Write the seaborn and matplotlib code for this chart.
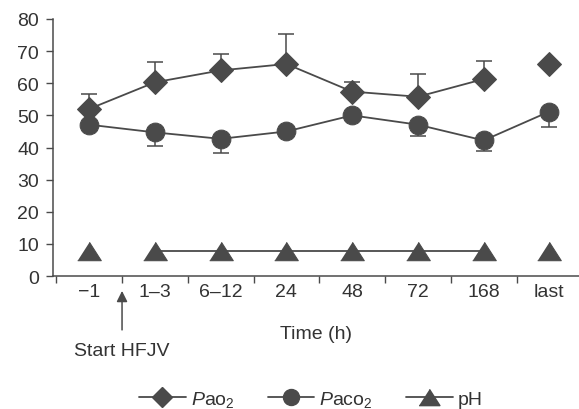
import numpy as np
import pandas as pd
import matplotlib.pyplot as plt
from matplotlib.lines import Line2D
import seaborn as sns

# podatki odčitani s slike
cas = ['\u22121', '1\u20133', '6\u201312', '24', '48', '72', '168', 'last']
pao2 = [52.0, 60.3, 64.0, 66.0, 57.4, 55.8, 61.3, 66.0]
pao2_sd = [4.7, 6.3, 5.0, 9.4, 3.1, 7.2, 5.7, 0.0]
paco2 = [47.1, 44.7, 42.7, 45.0, 50.0, 47.1, 42.2, 51.2]
paco2_sd = [0.0, 4.1, 4.4, 0.0, 0.0, 3.4, 3.4, 4.7]
ph = [7.9, 7.9, 7.9, 7.9, 7.9, 7.9, 7.9, 7.9]

df = pd.DataFrame({'x': np.arange(len(cas)), 'pao2': pao2, 'paco2': paco2, 'ph': ph})

sns.set_style('ticks')
plt.rcParams['font.family'] = ['Liberation Sans', 'DejaVu Sans']
plt.rcParams['mathtext.fontset'] = 'custom'
plt.rcParams['mathtext.rm'] = 'Liberation Sans'
plt.rcParams['mathtext.it'] = 'Liberation Sans:italic'

barva = '#4a4a4a'
tekst = '#333333'
fs = 14

# sirsi trikotnik kot v originalu
trikotnik = [(-1, -0.78), (1, -0.78), (0, 0.78)]

fig = plt.figure(figsize=(5.79, 4.10), dpi=100)
ax = fig.add_axes([53 / 579, 1 - 277 / 410, 1 - 53 / 579, (277 - 20) / 410])

# error bars (samo ena stran)
ax.errorbar(df['x'], df['pao2'], yerr=[np.zeros(len(cas)), pao2_sd], fmt='none',
            ecolor=barva, elinewidth=1.1, capsize=5.5, capthick=1.1, zorder=1)
ax.errorbar(df['x'], df['paco2'], yerr=[paco2_sd, np.zeros(len(cas))], fmt='none',
            ecolor=barva, elinewidth=1.1, capsize=5.5, capthick=1.1, zorder=1)

kw = dict(color=barva, linewidth=1.3, markeredgecolor=barva, ax=ax, legend=False)

# PaO2: povezano od -1 do 168, last posebej
sns.lineplot(data=df.iloc[:7], x='x', y='pao2', marker='D', markersize=12, **kw)
sns.lineplot(data=df.iloc[7:], x='x', y='pao2', marker='D', markersize=12, **kw)
# PaCO2: vse povezano
sns.lineplot(data=df, x='x', y='paco2', marker='o', markersize=13.5, **kw)
# pH: -1 in last posebej
for sub in [df.iloc[:1], df.iloc[1:7], df.iloc[7:]]:
    sns.lineplot(data=sub, x='x', y='ph', marker=trikotnik, markersize=17, **kw)

ax.set_xlim(-0.55, 7.45)
ax.set_ylim(0, 80)
ax.set_yticks(range(0, 81, 10))
ax.set_xticks(np.arange(-0.5, 7, 1))
ax.set_xticklabels([])
ax.set_xticks(np.arange(len(cas)), minor=True)
ax.set_xticklabels(cas, minor=True)
ax.tick_params(axis='x', which='minor', length=0, pad=5, labelsize=fs, labelcolor=tekst)
ax.tick_params(axis='x', which='major', length=5, width=1, color=barva)
ax.tick_params(axis='y', length=5, width=1, color=barva, labelsize=fs, labelcolor=tekst, pad=5)
for s in ['left', 'bottom']:
    ax.spines[s].set_color(barva)
    ax.spines[s].set_linewidth(1.1)
sns.despine(ax=ax)
ax.set_xlabel('Time (h)', fontsize=fs, color=tekst, labelpad=18)
ax.set_ylabel('')

ax.annotate('Start HFJV', xy=(0.5, -0.058), xycoords=('data', 'axes fraction'),
            xytext=(0.5, -0.288), textcoords=('data', 'axes fraction'),
            ha='center', va='center', fontsize=fs, color=tekst,
            arrowprops=dict(arrowstyle='-|>', color=barva, lw=1.1, mutation_scale=16,
                            shrinkA=6, shrinkB=0),
            annotation_clip=False)

handles = [
    Line2D([], [], color=barva, marker='D', markersize=10.5, linewidth=1.3),
    Line2D([], [], color=barva, marker='o', markersize=11.5, linewidth=1.3),
    Line2D([], [], color=barva, marker=trikotnik, markersize=15, linewidth=1.3),
]
labels = [r'$\mathit{P}$ao$_2$', r'$\mathit{P}$aco$_2$', 'pH']
leg = fig.legend(handles, labels, loc='center', bbox_to_anchor=(0.537, 1 - 400 / 410),
                 ncol=3, frameon=False, fontsize=fs, handlelength=2.4,
                 handletextpad=0.26, columnspacing=1.7)
for t in leg.get_texts():
    t.set_color(tekst)

fig.savefig('out.png', dpi=100)
